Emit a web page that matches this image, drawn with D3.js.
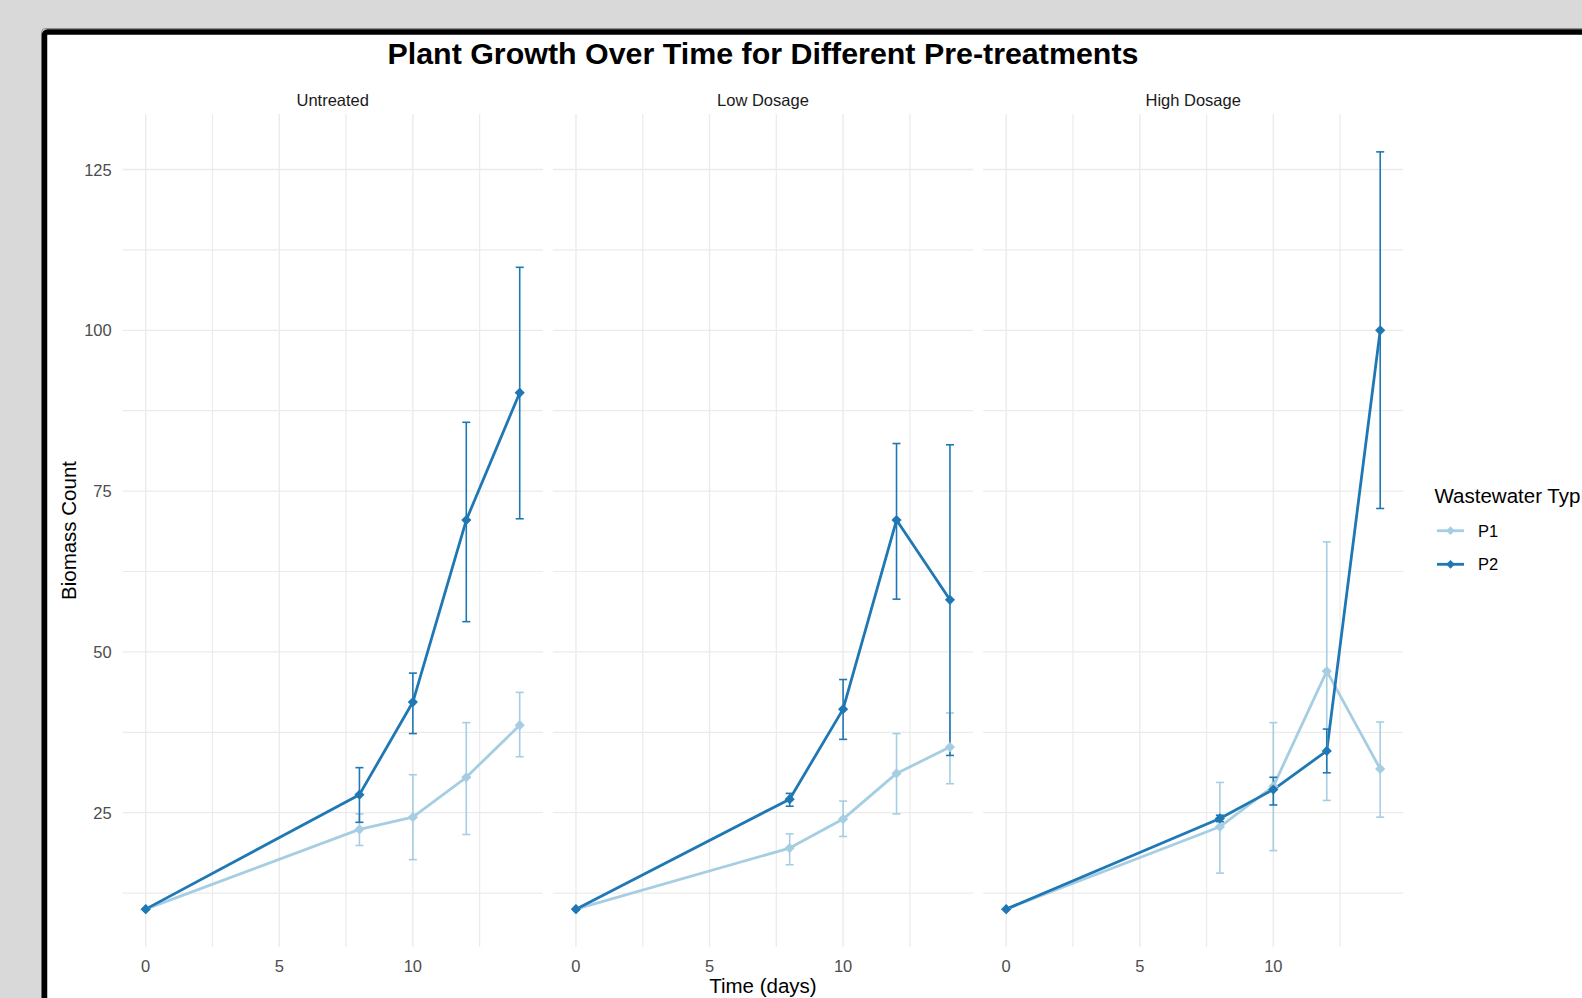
<!DOCTYPE html>
<html>
<head>
<meta charset="utf-8">
<script src="https://cdn.jsdelivr.net/npm/d3@7"></script>
<style>
  html, body { margin: 0; padding: 0; background: #D9D9D9; }
  svg { display: block; font-family: "Liberation Sans", Arial, sans-serif; }
</style>
</head>
<body>
<svg id="chart" width="1582" height="998"></svg>
<script>
// ---------------- data ----------------
const days = [0, 8, 10, 12, 14];
const treatments = ["Untreated", "Low Dosage", "High Dosage"];
const waterTypes = ["P1", "P2"];

// mean biomass, lower and upper error limits (per day)
const untreatedP1 = [10, 22.4, 24.3, 30.5, 38.6];
const untreatedP1Lo = [10, 19.9, 17.7, 21.6, 33.7];
const untreatedP1Hi = [10, 24.8, 30.9, 39.0, 43.7];
const untreatedP2 = [10, 27.8, 42.2, 70.5, 90.3];
const untreatedP2Lo = [10, 23.5, 37.3, 54.7, 70.7];
const untreatedP2Hi = [10, 32.0, 46.7, 85.7, 109.8];

const lowP1 = [10, 19.5, 24.0, 31.1, 35.2];
const lowP1Lo = [10, 16.9, 21.3, 24.8, 29.5];
const lowP1Hi = [10, 21.7, 26.8, 37.3, 40.5];
const lowP2 = [10, 27.1, 41.1, 70.5, 58.1];
const lowP2Lo = [10, 26.0, 36.4, 58.2, 33.9];
const lowP2Hi = [10, 28.0, 45.7, 82.4, 82.2];

const highP1 = [10, 22.8, 29.1, 47.0, 31.8];
const highP1Lo = [10, 15.6, 19.1, 26.9, 24.3];
const highP1Hi = [10, 29.7, 39.0, 67.1, 39.1];
const highP2 = [10, 24.1, 28.6, 34.6, 100.0];
const highP2Lo = [10, 23.6, 26.2, 31.2, 72.3];
const highP2Hi = [10, 24.6, 30.5, 38.0, 127.75];

const xTicks = [0, 5, 10];
const yTicks = [25, 50, 75, 100, 125];

const titleText = "Plant Growth Over Time for Different Pre-treatments";
const xTitle = "Time (days)";
const yTitle = "Biomass Count";
const legendTitle = "Wastewater Typ";

// ---------------- build table ----------------
const table = {
  "Untreated": {
    P1: [untreatedP1, untreatedP1Lo, untreatedP1Hi],
    P2: [untreatedP2, untreatedP2Lo, untreatedP2Hi]
  },
  "Low Dosage": {
    P1: [lowP1, lowP1Lo, lowP1Hi],
    P2: [lowP2, lowP2Lo, lowP2Hi]
  },
  "High Dosage": {
    P1: [highP1, highP1Lo, highP1Hi],
    P2: [highP2, highP2Lo, highP2Hi]
  }
};
function seriesRows(t, w) {
  const [m, lo, hi] = table[t][w];
  return days.map((d, i) => ({ day: d, mean: m[i], lo: lo[i], hi: hi[i] }));
}

// ---------------- layout ----------------
const W = 1582, H = 998;
const svg = d3.select("#chart");
const colors = d3.scaleOrdinal().domain(waterTypes).range(["#A6CEE3", "#1F78B4"]);

// window frame
svg.append("rect").attr("x", 0).attr("y", 0).attr("width", W).attr("height", H).attr("fill", "#D9D9D9");
svg.append("rect").attr("x", 41.5).attr("y", 28.5).attr("width", 3000).attr("height", 3000)
  .attr("rx", 4).attr("fill", "none").attr("stroke", "#8c8c8c").attr("stroke-width", 1);
svg.append("rect").attr("x", 44.5).attr("y", 32).attr("width", 3000).attr("height", 3000)
  .attr("rx", 3).attr("fill", "#ffffff").attr("stroke", "#000000").attr("stroke-width", 5.5);

const panelTop = 114, panelBottom = 947;
const panelsLeft = 122.6, panelsRight = 1403.3;
const band = d3.scaleBand().domain(treatments).range([panelsLeft, panelsRight]).paddingInner(10 / 430);

const capHalf = 0.15;
const xExt = [d3.min(days) - capHalf, d3.max(days) + capHalf];
const xPad = (xExt[1] - xExt[0]) * 0.05;
const allVals = [].concat(untreatedP1Lo, untreatedP1Hi, untreatedP2Lo, untreatedP2Hi,
  lowP1Lo, lowP1Hi, lowP2Lo, lowP2Hi, highP1Lo, highP1Hi, highP2Lo, highP2Hi);
const yExt = d3.extent(allVals);
const yPad = (yExt[1] - yExt[0]) * 0.05;
const y = d3.scaleLinear().domain([yExt[0] - yPad, yExt[1] + yPad]).range([panelBottom, panelTop]);

const yMinor = yTicks.map(t => t - 12.5).filter(v => v > y.domain()[0]);
const xMinor = xTicks.map(t => t + 2.5);

const gridColor = "#EBEBEB";
const diamond = d3.symbol().type(d3.symbolSquare).size(52);
const diamondSmall = d3.symbol().type(d3.symbolSquare).size(38);

// title
svg.append("text").attr("x", (panelsLeft + panelsRight) / 2).attr("y", 64)
  .attr("text-anchor", "middle").attr("font-size", 30.4).attr("font-weight", "bold")
  .attr("fill", "#000").text(titleText);

treatments.forEach(t => {
  const x0 = band(t);
  const x = d3.scaleLinear().domain([xExt[0] - xPad, xExt[1] + xPad]).range([x0, x0 + band.bandwidth()]);
  const g = svg.append("g");

  // grid
  g.selectAll(".hmin").data(yMinor).join("line")
    .attr("x1", x0).attr("x2", x0 + band.bandwidth())
    .attr("y1", d => y(d)).attr("y2", d => y(d))
    .attr("stroke", gridColor).attr("stroke-width", 1.2);
  g.selectAll(".hmaj").data(yTicks).join("line")
    .attr("x1", x0).attr("x2", x0 + band.bandwidth())
    .attr("y1", d => y(d)).attr("y2", d => y(d))
    .attr("stroke", gridColor).attr("stroke-width", 1.4);
  g.selectAll(".vmin").data(xMinor).join("line")
    .attr("x1", d => x(d)).attr("x2", d => x(d))
    .attr("y1", panelTop).attr("y2", panelBottom)
    .attr("stroke", gridColor).attr("stroke-width", 1.2);
  g.selectAll(".vmaj").data(xTicks).join("line")
    .attr("x1", d => x(d)).attr("x2", d => x(d))
    .attr("y1", panelTop).attr("y2", panelBottom)
    .attr("stroke", gridColor).attr("stroke-width", 1.4);

  // strip label
  g.append("text").attr("x", x0 + band.bandwidth() / 2).attr("y", 106)
    .attr("text-anchor", "middle").attr("font-size", 16.5).attr("fill", "#1A1A1A").text(t);

  // x tick labels
  g.selectAll(".xt").data(xTicks).join("text")
    .attr("x", d => x(d)).attr("y", 972).attr("text-anchor", "middle")
    .attr("font-size", 16.5).attr("fill", "#4D4D4D").text(d => d);

  const line = d3.line().x(d => x(d.day)).y(d => y(d.mean));

  // lines
  waterTypes.forEach(w => {
    g.append("path").datum(seriesRows(t, w)).attr("d", line)
      .attr("fill", "none").attr("stroke", colors(w)).attr("stroke-width", 2.8)
      .attr("stroke-linejoin", "round");
  });
  // error bars
  waterTypes.forEach(w => {
    const rows = seriesRows(t, w);
    const eg = g.append("g").attr("stroke", colors(w)).attr("stroke-width", 1.6).attr("fill", "none");
    eg.selectAll(".v").data(rows).join("line")
      .attr("x1", d => x(d.day)).attr("x2", d => x(d.day))
      .attr("y1", d => y(d.lo)).attr("y2", d => y(d.hi));
    eg.selectAll(".ct").data(rows).join("line")
      .attr("x1", d => x(d.day - capHalf)).attr("x2", d => x(d.day + capHalf))
      .attr("y1", d => y(d.hi)).attr("y2", d => y(d.hi));
    eg.selectAll(".cb").data(rows).join("line")
      .attr("x1", d => x(d.day - capHalf)).attr("x2", d => x(d.day + capHalf))
      .attr("y1", d => y(d.lo)).attr("y2", d => y(d.lo));
  });
  // points
  waterTypes.forEach(w => {
    g.selectAll(".pt-" + w).data(seriesRows(t, w)).join("path")
      .attr("d", diamond)
      .attr("transform", d => `translate(${x(d.day)},${y(d.mean)}) rotate(45)`)
      .attr("fill", colors(w));
  });
});

// y tick labels
svg.selectAll(".yt").data(yTicks).join("text")
  .attr("x", 111.7).attr("y", d => y(d) + 6).attr("text-anchor", "end")
  .attr("font-size", 16.5).attr("fill", "#4D4D4D").text(d => d);

// axis titles
svg.append("text").attr("x", (panelsLeft + panelsRight) / 2).attr("y", 993)
  .attr("text-anchor", "middle").attr("font-size", 20.5).attr("fill", "#000").text(xTitle);
svg.append("text").attr("transform", `translate(75.5,${(panelTop + panelBottom) / 2}) rotate(-90)`)
  .attr("text-anchor", "middle").attr("font-size", 20.5).attr("fill", "#000").text(yTitle);

// legend
const lg = svg.append("g");
lg.append("text").attr("x", 1434.5).attr("y", 503).attr("font-size", 20.5).attr("fill", "#000").text(legendTitle);
const keyY = d3.scalePoint().domain(waterTypes).range([530.7, 564.3]);
waterTypes.forEach(w => {
  const ky = keyY(w);
  lg.append("line").attr("x1", 1437).attr("x2", 1464).attr("y1", ky).attr("y2", ky)
    .attr("stroke", colors(w)).attr("stroke-width", 2.8);
  lg.append("path").attr("d", diamondSmall)
    .attr("transform", `translate(1450.5,${ky}) rotate(45)`).attr("fill", colors(w));
  lg.append("text").attr("x", 1478).attr("y", ky + 6).attr("font-size", 16.5)
    .attr("fill", "#000").text(w);
});
</script>
</body>
</html>
